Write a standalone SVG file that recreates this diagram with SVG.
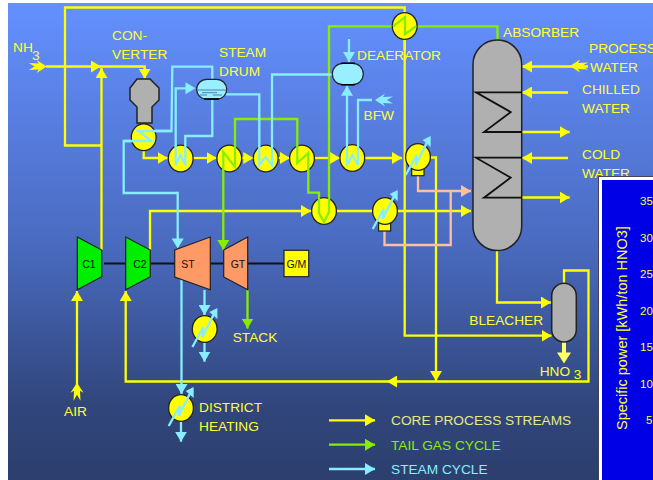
<svg xmlns="http://www.w3.org/2000/svg" width="653" height="480" viewBox="0 0 653 480">
<style>
text{font-family:"Liberation Sans",Arial,sans-serif;font-size:13.7px;fill:#ffff33}
.l{fill:none;stroke-width:2.3;stroke-linejoin:miter}
.y{stroke:#ffff00}.g{stroke:#88ee00}.s{stroke:#88eeff}.p{stroke:#ffc0a0}
.ya{marker-end:url(#ay)}.ga{marker-end:url(#ag)}.sa{marker-end:url(#as)}.pa{marker-end:url(#ap)}
.hx{fill:#ffff00;stroke:#222;stroke-width:1.3}
.eq{fill:#b0b0b0;stroke:#222;stroke-width:1.5}
.tb{stroke:#222;stroke-width:1.2}
.c{fill:#00ee00}.t{fill:#ff9966}
.m{font-size:10.5px;fill:#111;text-anchor:middle}
.coil{fill:none;stroke:#111;stroke-width:1.8}
.pn{font-size:11.5px}
</style>
<defs>
<linearGradient id="bg" x1="0" y1="0" x2="0" y2="1">
<stop offset="0" stop-color="#6490ff"/><stop offset=".5" stop-color="#4a6bc0"/><stop offset=".85" stop-color="#30457a"/><stop offset="1" stop-color="#2c3f6e"/>
</linearGradient>
<marker id="ay" markerUnits="userSpaceOnUse" markerWidth="10" markerHeight="12" refX="10" refY="6" orient="auto"><path d="M0 0L10 6L0 12Z" fill="#ffff00"/></marker>
<marker id="ag" markerUnits="userSpaceOnUse" markerWidth="10" markerHeight="12" refX="10" refY="6" orient="auto"><path d="M0 0L10 6L0 12Z" fill="#88ee00"/></marker>
<marker id="as" markerUnits="userSpaceOnUse" markerWidth="10" markerHeight="12" refX="10" refY="6" orient="auto"><path d="M0 0L10 6L0 12Z" fill="#88eeff"/></marker>
<marker id="ap" markerUnits="userSpaceOnUse" markerWidth="10" markerHeight="12" refX="10" refY="6" orient="auto"><path d="M0 0L10 6L0 12Z" fill="#ffc0a0"/></marker>
<g id="cond">
<ellipse class="hx" rx="12.4" ry="13.4"/>
<polyline class="l s" points="-12.3,18 -1.3,-2 -2.3,8 8.7,-14"/>
<path d="M12.7-21L4.7-17L12.7-10Z" fill="#88eeff"/>
</g>
<path id="fe" d="M0 0L-10-6.5L-8-3L-18-3.5L-12 0L-18 3.5L-8 3L-10 6.5Z"/>
</defs>
<rect x="8" y="3" width="645" height="477" fill="url(#bg)"/>
<g id="connectors">
<polyline class="l y ya" points="46,66.5 101,66.5"/>
<polyline class="l y ya" points="101,66.5 144.7,66.5 144.7,78.7"/>
<polyline class="l y ya" points="101.5,250 101.5,68"/>
<polyline class="l y" points="101.5,145.5 65,145.5 65,7.5 404.7,7.5 404.7,50"/>
<polyline class="l y ya" points="404.7,26 404.7,335.7 551.5,335.7"/>
<polyline class="l y ya" points="143.7,150 143.7,158 167.7,158"/>
<polyline class="l y ya" points="193,158 216.7,158"/>
<polyline class="l y ya" points="241,158 253.3,158"/>
<polyline class="l y ya" points="278,158 290,158"/>
<polyline class="l y ya" points="314,158 340,158"/>
<polyline class="l y ya" points="364,158 402,158"/>
<polyline class="l y ya" points="430,157.5 436,157.5 436,381"/>
<polyline class="l y ya" points="150,250 150,211 311,211"/>
<polyline class="l y ya" points="336,211 471,211"/>
<polyline class="l y ya" points="588,66.5 522,66.5"/>
<polyline class="l y ya" points="568,92.5 522,92.5"/>
<polyline class="l y ya" points="522,132 569.7,132"/>
<polyline class="l y ya" points="568,158 522,158"/>
<polyline class="l y ya" points="522,197.5 569.7,197.5"/>
<polyline class="l y ya" points="497,250 497,302.5 551,302.5"/>
<polyline class="l y ya" points="564,283 564,270.5 588.5,270.5 588.5,381.5 387,381.5"/>
<polyline class="l y ya" points="387,381.5 125.7,381.5 125.7,291"/>
<polyline class="l y ya" points="77,385 77,291"/>
<polyline fill="none" stroke="#ffff66" stroke-width="4" points="564,342 564,355"/>
<path d="M557 352.5L571 352.5L564 363.5Z" fill="#ffff66"/>
<polyline class="l g ga" points="223.3,152 223.3,250"/>
<polyline class="l g" points="235,167 235,119 297.3,119 297.3,163 308.3,153 308.3,192.7 319,192.7 319,213 324,222 329,212 329,26.3 394,26.3 405,17 405,34 415,26.3 497.5,26.3 497.5,40"/>
<polyline class="l g ga" points="247.5,290 247.5,328.5"/>
<polyline class="l s" points="177.7,240 177.7,193 123.7,193 123.7,141 151.7,141 138.3,131 171.5,131 172.3,66.7 212.3,66.7 212.3,136 185.3,136 185.3,165 180.5,155 175.7,165 175.7,88.3 188,88.3"/>
<path d="M171.7 238.5L183.7 238.5L177.7 248.5Z" fill="#88eeff"/>
<path d="M185.5 82.3L195.5 88.3L185.5 94.3Z" fill="#88eeff"/>
<polyline class="l s" points="226,94.3 259.3,94.3 259.3,165 265.7,157 272,165 272,74.5 333,74.5"/>
<polyline class="l s sa" points="349,39 349,62"/>
<polyline class="l s sa" points="347,165 347,85.7"/>
<polyline class="l s" points="347,165 352.5,155 358,165 358,100 372,100"/>
<polyline class="l s sa" points="204.5,290 204.5,315"/>
<polyline class="l s sa" points="204.5,342 204.5,361.7"/>
<polyline class="l s sa" points="181.5,279 181.5,394"/>
<polyline class="l s sa" points="181,421 181,441.7"/>
<polyline class="l p pa" points="418,176 418,191 471,191"/>
<polyline class="l p" points="384.5,231 384.5,245 450.7,245 450.7,191"/>
</g>
<g id="feed-arrows">
<use href="#fe" x="46.7" y="66.5" fill="#ffff00"/>
<use href="#fe" transform="translate(570,66) rotate(180)" fill="#ffff00"/>
<use href="#fe" transform="translate(77,382.7) rotate(-90)" fill="#ffff00"/>
<use href="#fe" transform="translate(375,100) rotate(180)" fill="#88eeff"/>
</g>
<g id="converter"><path class="eq" d="M137 79H150L159 88V100L152 107V123H137V107L130 100V88Z"/></g>
<g id="hx1"><ellipse class="hx" cx="143.7" cy="137.3" rx="12.4" ry="13.4"/><polyline class="l s" points="123.7,141 151.7,141 138.3,131 171.5,131"/></g>
<g id="hx2"><ellipse class="hx" cx="180.7" cy="158.5" rx="12.4" ry="13.4"/><polyline class="l s" points="175.7,145 175.7,165 180.5,155 185.3,165 185.3,145"/></g>
<g id="hx3"><ellipse class="hx" cx="229.3" cy="158.5" rx="12.4" ry="13.4"/><polyline class="l g" points="223.3,172 223.3,152 235,167 235,145"/></g>
<g id="hx4"><ellipse class="hx" cx="265.7" cy="158.5" rx="12.4" ry="13.4"/><polyline class="l s" points="259.3,145 259.3,165 265.7,157 272,165 272,145"/></g>
<g id="hx5"><ellipse class="hx" cx="302" cy="158.5" rx="12.4" ry="13.4"/><polyline class="l g" points="297.3,145 297.3,163 308.3,153 308.3,172"/></g>
<g id="hx6"><ellipse class="hx" cx="352.3" cy="158" rx="12.4" ry="13.4"/><polyline class="l s" points="347,145 347,165 352.5,155 358,165 358,145"/></g>
<g id="hx7"><rect x="411.7" y="166" width="12.3" height="9.7" fill="#ffff00" stroke="#222" stroke-width="1.2"/><use href="#cond" x="418" y="157"/></g>
<g id="hx8"><ellipse class="hx" cx="324" cy="211" rx="12.4" ry="13.4"/><polyline class="l g" points="319,198 319,213 324,222 329,212 329,198"/></g>
<g id="hx9"><rect x="378.6" y="220" width="12" height="11" fill="#ffff00" stroke="#222" stroke-width="1.2"/><use href="#cond" x="385" y="211"/></g>
<g id="hx-top"><ellipse class="hx" cx="404.7" cy="26" rx="12.4" ry="13.4"/><polyline class="l g" points="393,26.3 405,17 405,34 416,26.3"/></g>
<g id="hx-st"><use href="#cond" x="204.7" y="329"/></g>
<g id="hx-dh"><use href="#cond" x="181" y="408"/></g>
<g id="steam-drum">
<rect x="196.7" y="79.3" width="30" height="20" rx="10" ry="10" fill="#99eeff" stroke="#222" stroke-width="1.2"/>
<path d="M197 90H226M202 92.7H217M200 95H207M213 95H222" stroke="#4a7fb0" stroke-width="1" fill="none"/>
<path d="M204 98.9H219" stroke="#000" stroke-width="1.5"/>
</g>
<g id="deaerator">
<rect x="332.3" y="63.3" width="31" height="21.4" rx="10.7" ry="10.7" fill="#99eeff" stroke="#222" stroke-width="1.2"/>
<path d="M341 63.3H355M341 84.7H355" stroke="#000" stroke-width="1.5"/>
</g>
<g id="absorber">
<rect class="eq" x="473" y="40" width="48.7" height="210.5" rx="24.3" ry="24.3"/>
<polyline class="coil" points="521.7,92.4 476,92.4 510.7,112 484,132 521.7,132"/>
<polyline class="coil" points="521.7,157.7 476,157.7 510.7,177.7 484,197.7 521.7,197.7"/>
</g>
<g id="bleacher"><rect class="eq" x="551.7" y="283.3" width="24.6" height="58.7" rx="12.3" ry="12.3"/></g>
<g id="shaft"><path d="M104 263.5H284" stroke="#111" stroke-width="2"/></g>
<g id="c1"><path class="tb c" d="M77.3 237L101.7 250V276.7L77.3 289.7Z"/><text class="m" x="89" y="267.5">C1</text></g>
<g id="c2"><path class="tb c" d="M125.7 237L150.3 250V276.7L125.7 289.7Z"/><text class="m" x="140" y="267.5">C2</text></g>
<g id="st"><path class="tb t" d="M174.7 250L210.3 237V289.7L174.7 277Z"/><text class="m" x="188" y="267.5">ST</text></g>
<g id="gt"><path class="tb t" d="M223.7 250L247.7 237V289.7L223.7 277Z"/><text class="m" x="238" y="267.5">GT</text></g>
<g id="gm"><rect x="284" y="250.3" width="24.7" height="26.4" fill="#ffff00" stroke="#222" stroke-width="1.2"/><text class="m" x="296.3" y="267.5">G/M</text></g>
<g id="labels">
<text x="13" y="52">NH</text><text x="32" y="60">3</text>
<text x="112" y="40">CON-</text><text x="112" y="59">VERTER</text>
<text x="219" y="57">STEAM</text><text x="219" y="76">DRUM</text>
<text x="357" y="60">DEAERATOR</text>
<text x="503" y="37">ABSORBER</text>
<text x="589" y="53">PROCESS</text><text x="590" y="72">WATER</text>
<text x="582" y="94">CHILLED</text><text x="582" y="113">WATER</text>
<text x="582" y="159">COLD</text><text x="582" y="178">WATER</text>
<text x="363.5" y="120">BFW</text>
<text x="232.7" y="342">STACK</text>
<text x="64" y="416">AIR</text>
<text x="199" y="412">DISTRICT</text><text x="199" y="431">HEATING</text>
<text x="469.3" y="325">BLEACHER</text>
<text x="539.7" y="376">HNO</text><text x="573.7" y="379">3</text>
</g>
<g id="legend">
<polyline class="l y ya" points="329,420.3 375,420.3"/>
<polyline class="l g ga" points="329,444.7 375,444.7"/>
<polyline class="l s sa" points="329,469 375,469"/>
<text x="391" y="425.3" style="fill:#e8e888">CORE PROCESS STREAMS</text>
<text x="391" y="450" style="fill:#88ee00">TAIL GAS CYCLE</text>
<text x="391" y="474.3" style="fill:#88eeff">STEAM CYCLE</text>
</g>
<g id="chart-panel">
<rect x="598.5" y="176.5" width="60" height="310" fill="#fff" stroke="#445" stroke-width="1"/>
<rect x="602" y="180" width="60" height="310" fill="#0000e6"/>
<text class="pn" x="640" y="205">35</text>
<text class="pn" x="640" y="241.5">30</text>
<text class="pn" x="640" y="278">25</text>
<text class="pn" x="640" y="314.5">20</text>
<text class="pn" x="640" y="351">15</text>
<text class="pn" x="640" y="387.5">10</text>
<text class="pn" x="646" y="424">5</text>
<text transform="translate(627,430) rotate(-90)" style="font-size:14.5px">Specific power [kWh/ton HNO3]</text>
</g>
</svg>
